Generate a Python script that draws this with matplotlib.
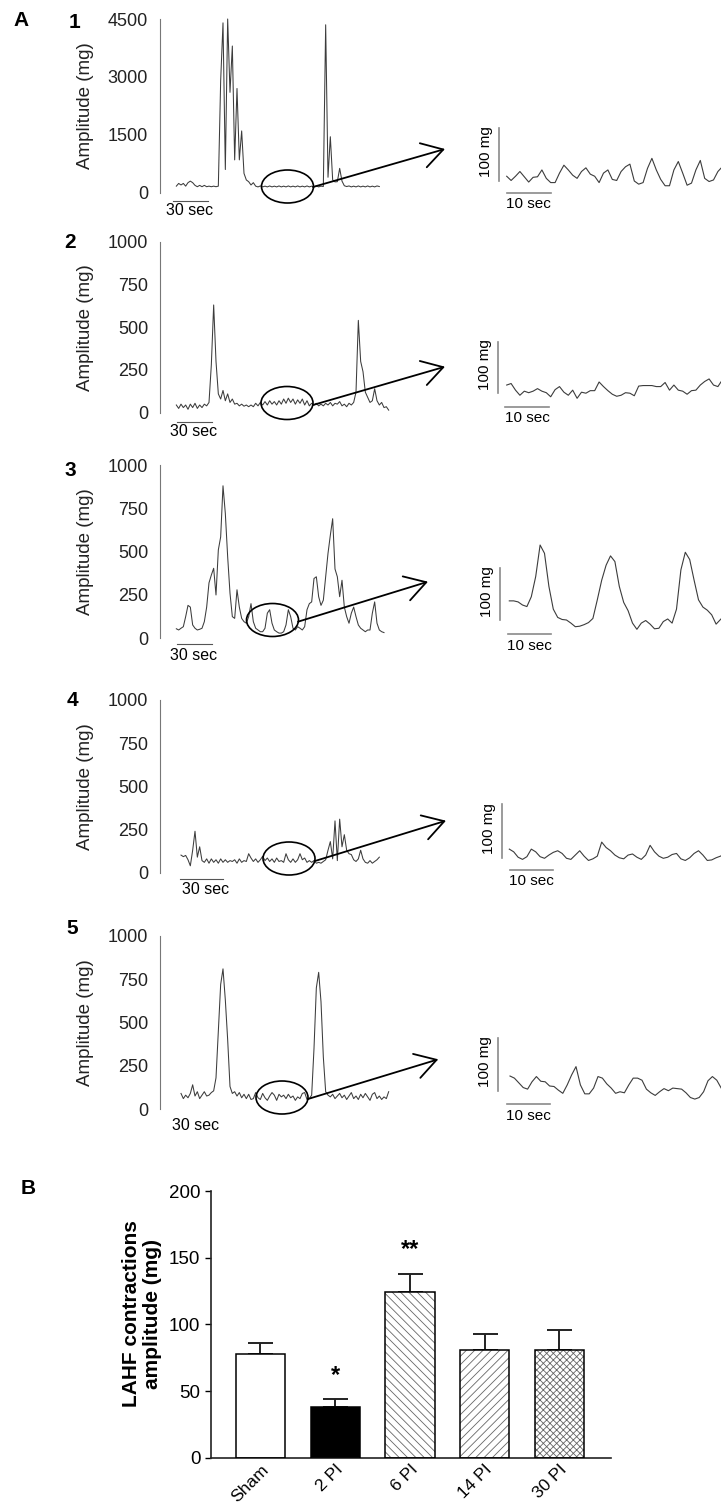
import numpy as np
import matplotlib
matplotlib.use("Agg")
import matplotlib.pyplot as plt
from matplotlib.patches import Ellipse

plt.rcParams['font.family'] = ['Liberation Sans', 'DejaVu Sans']
plt.rcParams['hatch.linewidth'] = 0.6

W, H = 721, 1508

# ---- A: raw recordings, amplitude in mg, one reading every 2 s ----
DT = 2.0
rec_start = [14, 14, 14, 18, 18]   # s
rec1 = [170, 240, 200, 240, 170, 260, 300, 260, 190, 155,
        190, 155, 190, 155, 170, 155, 170, 155, 170, 2900,
        4400, 600, 4500, 2600, 3800, 850, 2700, 850, 1600, 500,
        330, 285, 200, 260, 170, 150, 175, 150, 170, 150,
        175, 150, 170, 150, 175, 150, 170, 150, 175, 150,
        170, 150, 175, 150, 170, 150, 175, 150, 170, 150,
        175, 150, 170, 160, 4350, 400, 1450, 330, 280, 285,
        630, 300, 180, 160, 175, 150, 170, 150, 175, 150,
        170, 150, 175, 150, 170, 150, 175, 160]
rec2 = [45, 25, 50, 30, 45, 20, 50, 30, 55, 25,
        45, 30, 50, 40, 60, 280, 630, 300, 110, 80,
        130, 70, 110, 60, 80, 50, 55, 40, 50, 38,
        45, 35, 45, 35, 55, 40, 60, 45, 65, 45,
        70, 50, 65, 45, 70, 50, 80, 55, 85, 60,
        80, 50, 75, 55, 80, 45, 70, 40, 55, 45,
        55, 40, 50, 40, 55, 45, 60, 40, 55, 50,
        65, 40, 50, 35, 55, 45, 60, 120, 540, 300,
        240, 120, 90, 60, 70, 140, 70, 45, 60, 30,
        35, 15]
rec3 = [55, 48, 58, 67, 125, 190, 180, 77, 58, 48,
        52, 58, 96, 180, 320, 365, 404, 250, 510, 585,
        880, 720, 470, 260, 125, 115, 280, 180, 115, 96,
        87, 125, 200, 96, 58, 48, 38, 38, 58, 145,
        165, 87, 48, 38, 30, 30, 38, 77, 165, 125,
        58, 48, 67, 58, 48, 67, 165, 200, 210, 345,
        355, 240, 190, 220, 355, 490, 595, 690, 400, 355,
        240, 335, 180, 125, 87, 145, 180, 125, 77, 58,
        48, 38, 48, 48, 145, 210, 87, 48, 38, 33]
rec4 = [102, 93, 100, 75, 40, 130, 240, 90, 150, 70,
        60, 80, 55, 80, 60, 75, 55, 80, 60, 75,
        60, 70, 65, 75, 55, 80, 60, 70, 65, 110,
        85, 65, 80, 60, 75, 95, 70, 85, 65, 80,
        60, 85, 65, 70, 60, 110, 75, 60, 80, 60,
        75, 110, 75, 85, 60, 70, 60, 70, 55, 60,
        55, 65, 75, 130, 180, 80, 300, 70, 310, 150,
        220, 130, 110, 105, 75, 65, 80, 130, 80, 60,
        55, 70, 55, 65, 75, 90]
rec5 = [90, 60, 80, 65, 90, 140, 75, 100, 60, 80,
        100, 75, 80, 95, 105, 180, 450, 720, 810, 630,
        400, 130, 90, 100, 75, 95, 65, 85, 60, 85,
        55, 60, 95, 65, 55, 90, 65, 50, 75, 95,
        80, 50, 85, 70, 80, 60, 85, 65, 75, 50,
        70, 60, 90, 95, 55, 60, 80, 350, 700, 790,
        620, 300, 100, 80, 70, 85, 60, 75, 90, 65,
        80, 55, 75, 95, 60, 75, 55, 85, 65, 90,
        70, 50, 85, 95, 60, 75, 55, 70, 60, 100]
recordings = [rec1, rec2, rec3, rec4, rec5]
y_max = [4500, 1000, 1000, 1000, 1000]
y_ticks = [[0, 1500, 3000, 4500]] + [[0, 250, 500, 750, 1000]] * 4

# expanded 50 s stretch (mg above the base of the 100 mg bar, 1 reading/s)
zoom1 = [9, 1, 9, 18, 8, -2, 7, 8, 21, 5, -3, -3, 15, 30, 21, 11, 5, 18, 25, 13,
         9, -3, 15, 21, 3, 1, 18, 27, 32, 0, -6, -3, 24, 43, 21, 3, -9, -9, 21, 37,
         15, -8, -4, 21, 39, 5, -1, 2, 18, 27]
zoom2 = [15, 18, 5, -5, 3, 0, 3, 8, 3, 0, -8, 6, 12, 1, -5, 5, -11, 1, -1, 4,
         4, 21, 12, 4, -3, -7, -5, 0, -1, -6, 13, 14, 14, 14, 12, 12, 20, 5, 15, 5,
         3, -3, 4, 5, 15, 22, 27, 15, 12, 25]
zoom3 = [37, 37, 35, 29, 26, 45, 84, 145, 129, 65, 21, 5, 1, 0, -6, -13, -12, -9, -5, 3,
         39, 77, 106, 124, 113, 65, 34, 18, -6, -18, -6, -1, -8, -17, -16, -3, 2, -6, 21, 97,
         131, 117, 77, 39, 25, 19, 10, -8, 1, 10]
zoom4 = [17, 12, 2, -2, 3, 17, 12, 3, 0, 6, 11, 14, 9, 0, -2, 6, 14, 4, -4, -1,
         4, 30, 20, 14, 6, 1, -1, 6, 8, 2, -2, 6, 24, 12, 4, 0, 2, 7, 9, -1,
         -4, 1, 9, 14, 6, -4, -3, 1, 4, 9]
zoom5 = [28, 24, 15, 6, 3, 17, 27, 18, 17, 9, 8, 1, -5, 11, 30, 46, 11, -6, -6, 5,
         27, 24, 13, 5, -5, -2, -4, 11, 24, 24, 20, 3, -4, -9, -2, 4, 0, 5, 4, 3,
         -4, -13, -16, -13, -2, 19, 27, 20, 5, -8]
zooms = [zoom1, zoom2, zoom3, zoom4, zoom5]

# ---- B: LAHF contraction amplitude ----
groups = ['Sham', '2 PI', '6 PI', '14 PI', '30 PI']
amp_mean = [78, 38, 124, 81, 81]
amp_sem = [8, 6, 14, 12, 15]
signif = ['', '*', '**', '', '']

# ---------------- layout (pixels) ----------------
PX_PER_S = 35 / 30          # main traces
ZPX_PER_S = 4.4             # expanded traces
row_zero = [192.7, 412.7, 638.3, 872.7, 1109]
row_top = [19, 241.7, 465, 700, 936]
num_pos = [(74, 23), (70, 243), (70, 471), (72, 700), (72, 929)]
ellipses = [(287.5, 186.5), (287, 403), (272.5, 620), (289, 858.5), (282, 1097.5)]
arrows = [((313, 187), (445, 149)), ((313, 405), (445, 366.7)),
          ((298, 621.7), (428, 581.7)), ((315, 861), (446, 820.7)),
          ((308, 1099), (438.3, 1059.3))]
sec30_bar = [(173, 208, 200.7), (176.7, 211.7, 421.7), (176.7, 211.7, 643.7),
             (180, 223, 879.3), None]
sec30_txt = [(189.5, 210.5), (193.3, 432), (194, 655), (206, 889.5), (195.5, 1126)]
zoom_box = [(499.3, 128.3, 181, 506.7), (498.3, 341.7, 392.7, 506.7),
            (500, 568.3, 620, 509.3), (501.7, 804.3, 858.3, 509.3),
            (498.3, 1038.3, 1090.7, 510)]
sec10_bar = [(506.7, 550.7, 193), (505, 549, 406.7), (508, 551, 634),
             (510, 552.7, 870), (506.7, 550, 1104)]
sec10_txt_y = [204.5, 418, 645.5, 881, 1115.5]


def px_rect(left, top, right, bottom):
    return [left / W, 1 - bottom / H, (right - left) / W, (bottom - top) / H]


fig = plt.figure(figsize=(W / 100, H / 100), dpi=100)

over = fig.add_axes([0, 0, 1, 1], zorder=10)
over.set_xlim(0, W)
over.set_ylim(H, 0)
over.axis('off')
over.patch.set_alpha(0)

trace_col = '#3c3c3c'
bar_grey = '#8a8a8a'

for i in range(5):
    zero, top = row_zero[i], row_top[i]
    ax = fig.add_axes(px_rect(160, top, 450, zero))
    vals = recordings[i]
    t = rec_start[i] + DT * np.arange(len(vals))
    ax.plot(t, vals, color=trace_col, lw=0.75, clip_on=False)
    ax.set_xlim(0, 290 / PX_PER_S)
    ax.set_ylim(0, y_max[i])
    ax.set_yticks(y_ticks[i])
    ax.set_xticks([])
    ax.tick_params(axis='y', length=0, pad=8.5, labelsize=13, colors='#222222')
    for s in ['top', 'right', 'bottom']:
        ax.spines[s].set_visible(False)
    ax.spines['left'].set_color('#777777')
    ax.spines['left'].set_linewidth(0.8)
    ax.patch.set_alpha(0)

    over.text(85, (zero + top) / 2, 'Amplitude (mg)', rotation=90,
              ha='center', va='center', fontsize=13.5, color='#222222')
    nx, ny = num_pos[i]
    over.text(nx, ny, str(i + 1), ha='center', va='center',
              fontsize=15, fontweight='bold')

    # time bar under the trace
    if sec30_bar[i] is not None:
        x0, x1, yb = sec30_bar[i]
        over.plot([x0, x1], [yb, yb], color='#555555', lw=0.8)
    tx, ty = sec30_txt[i]
    over.text(tx, ty, '30 sec', ha='center', va='center', fontsize=11.5)

    # marked stretch and arrow to the expanded view
    cx, cy = ellipses[i]
    over.add_patch(Ellipse((cx, cy), 52, 33, fill=False, ec='black', lw=1.2))
    (sx, sy), (ex, ey) = arrows[i]
    over.annotate('', xy=(ex, ey), xytext=(sx, sy),
                  arrowprops=dict(arrowstyle='->,head_length=0.75,head_width=0.45',
                                  mutation_scale=20, lw=1.3, color='black',
                                  shrinkA=0, shrinkB=0))

    # expanded trace, left spine doubles as the 100 mg bar
    bx, btop, bbot, start = zoom_box[i]
    zx = fig.add_axes(px_rect(bx, btop, W, bbot))
    zv = zooms[i]
    zt = np.arange(len(zv)) * 1.0
    zx.plot(zt, zv, color=trace_col, lw=0.8, clip_on=False)
    zx.set_xlim((bx - start) / ZPX_PER_S, (W - start) / ZPX_PER_S)
    zx.set_ylim(0, 100)
    zx.set_xticks([])
    zx.set_yticks([])
    for s in ['top', 'right', 'bottom']:
        zx.spines[s].set_visible(False)
    zx.spines['left'].set_color(bar_grey)
    zx.spines['left'].set_linewidth(1.2)
    zx.patch.set_alpha(0)
    over.text(bx - 13, (btop + bbot) / 2 - 3, '100 mg', rotation=90,
              ha='center', va='center', fontsize=11)
    x0, x1, yb = sec10_bar[i]
    over.plot([x0, x1], [yb, yb], color=bar_grey, lw=1.2)
    over.text((x0 + x1) / 2, sec10_txt_y[i], '10 sec', ha='center',
              va='center', fontsize=11)

over.text(21, 21, 'A', ha='center', va='center', fontsize=15, fontweight='bold')
over.text(28, 1189, 'B', ha='center', va='center', fontsize=15, fontweight='bold')

# ---------------- B: bar chart ----------------
axb = fig.add_axes(px_rect(210.7, 1191, 611, 1457.7))
x = np.arange(len(groups))
fills = ['white', 'black', 'white', 'white', 'white']
hatches = [None, None, '\\\\\\\\', '////', 'xxxxx']
for xi, m, fc, hc in zip(x, amp_mean, fills, hatches):
    if hc:
        axb.bar(xi, m, width=0.66, color=fc, edgecolor='#666666', lw=0,
                hatch=hc, zorder=2)
    else:
        axb.bar(xi, m, width=0.66, color=fc, lw=0, zorder=2)
axb.bar(x, amp_mean, width=0.66, fill=False, edgecolor='black', lw=1.1, zorder=3)
axb.errorbar(x, amp_mean, yerr=[np.zeros(len(x)), amp_sem], fmt='none',
             ecolor='#222222', elinewidth=1.4, capsize=9, capthick=1.4, zorder=1)
for xi, m, e, s in zip(x, amp_mean, amp_sem, signif):
    if s:
        axb.text(xi, m + e + 18, s, ha='center', va='center',
                 fontsize=17, fontweight='bold')
axb.set_xlim(-0.666, 4.69)
axb.set_ylim(0, 200)
axb.set_yticks([0, 50, 100, 150, 200])
axb.set_xticks(x)
axb.set_xticklabels(groups, rotation=45, ha='right', rotation_mode='anchor')
axb.tick_params(axis='y', length=4.5, width=1, pad=3, labelsize=13.5)
axb.tick_params(axis='x', length=0, pad=3, labelsize=12.5)
for s in ['top', 'right']:
    axb.spines[s].set_visible(False)
for s in ['left', 'bottom']:
    axb.spines[s].set_linewidth(1.2)
    axb.spines[s].set_color('#222222')
axb.patch.set_alpha(0)
over.text(142, 1314, 'LAHF contractions\namplitude (mg)', rotation=90,
          ha='center', va='center', fontsize=15, fontweight='bold',
          linespacing=1.15)

fig.savefig('out.png', dpi=100)
